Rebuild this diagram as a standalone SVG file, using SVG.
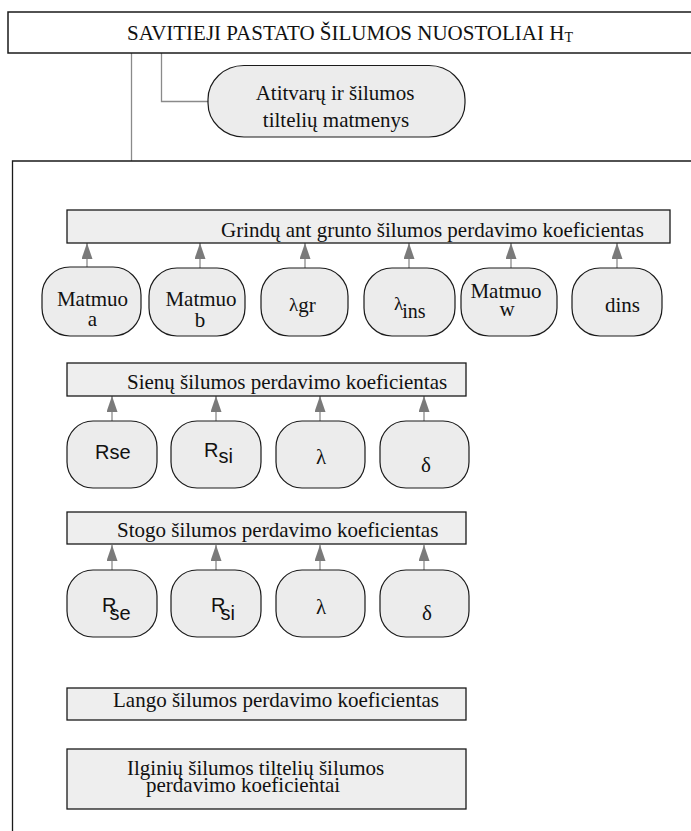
<svg xmlns="http://www.w3.org/2000/svg" width="691" height="831" viewBox="0 0 691 831">
  <defs>
    <marker id="arrow" viewBox="0 0 16 11" refX="16" refY="5.5" markerWidth="16" markerHeight="11" markerUnits="userSpaceOnUse" orient="auto">
      <path d="M0,0 L16,5.5 L0,11 z" fill="#7a7a7a"/>
    </marker>
  </defs>
  <style>
    .frame { fill: #ffffff; stroke: #1a1a1a; stroke-width: 1.5; }
    .bar { fill: #eeeeee; stroke: #1a1a1a; stroke-width: 1.3; }
    .node { fill: #ececec; stroke: #1a1a1a; stroke-width: 1.2; }
    .link { fill: none; stroke: #8a8a8a; stroke-width: 1.3; }
    .arrow { fill: none; stroke: #8a8a8a; stroke-width: 1.3; marker-end: url(#arrow); }
    .serif { font-family: "Liberation Serif", "Times New Roman", serif; fill: #111111; font-size: 21px; }
    .sans { font-family: "Liberation Sans", Arial, sans-serif; fill: #111111; font-size: 20px; }
    .mid { text-anchor: middle; }
  </style>

  <rect width="691" height="831" fill="#ffffff"/>

  <!-- connectors -->
  <g id="connectors">
    <path class="link" d="M131.5,53 V161"/>
    <path class="link" d="M161.5,53 V101.5 H208"/>
    <!-- floor inputs -->
    <path class="arrow" d="M87,267 V243"/>
    <path class="arrow" d="M200,268 V243"/>
    <path class="arrow" d="M305,268 V243"/>
    <path class="arrow" d="M409,268 V243"/>
    <path class="arrow" d="M511,268 V243"/>
    <path class="arrow" d="M617,268 V243"/>
    <!-- wall inputs -->
    <path class="arrow" d="M112,421 V396"/>
    <path class="arrow" d="M216,421 V396"/>
    <path class="arrow" d="M320,421 V396"/>
    <path class="arrow" d="M424,421 V396"/>
    <!-- roof inputs -->
    <path class="arrow" d="M112,570 V545"/>
    <path class="arrow" d="M216,570 V545"/>
    <path class="arrow" d="M320,570 V545"/>
    <path class="arrow" d="M424,570 V545"/>
  </g>

  <!-- header -->
  <g id="header">
    <rect class="frame" x="8" y="12" width="700" height="41"/>
    <text class="serif" x="127" y="39.5">SAVITIEJI PASTATO ŠILUMOS NUOSTOLIAI H<tspan font-size="14" dy="2">T</tspan></text>
  </g>

  <!-- dimensions -->
  <g id="dimensions">
    <rect class="node" x="208" y="65.5" width="257" height="71.5" rx="36" ry="34"/>
    <text class="serif mid" x="335" y="100" font-size="19">Atitvarų ir šilumos</text>
    <text class="serif mid" x="336" y="127" font-size="19">tiltelių matmenys</text>
  </g>

  <!-- container -->
  <g id="container">
    <path d="M12.5,831 V161 H691" fill="none" stroke="#1a1a1a" stroke-width="1.3"/>
  </g>

  <!-- floor on ground -->
  <g id="floor">
    <rect class="bar" x="67" y="210" width="603" height="33"/>
    <text class="serif" x="221" y="236.5">Grindų ant grunto šilumos perdavimo koeficientas</text>
  </g>
  <g id="floor-a">
    <rect class="node" x="42" y="267" width="99" height="69" rx="28" ry="28"/>
    <text class="serif mid" x="92.5" y="306">Matmuo</text>
    <text class="serif mid" x="92.5" y="326">a</text>
  </g>
  <g id="floor-b">
    <rect class="node" x="149" y="268" width="96" height="68" rx="28" ry="28"/>
    <text class="serif mid" x="201" y="306">Matmuo</text>
    <text class="serif mid" x="200" y="327">b</text>
  </g>
  <g id="floor-lambda-gr">
    <rect class="node" x="261" y="268" width="87" height="68" rx="28" ry="28"/>
    <text class="serif" x="289" y="311"><tspan font-size="19">λ</tspan><tspan dy="1">gr</tspan></text>
  </g>
  <g id="floor-lambda-ins">
    <rect class="node" x="364" y="268" width="91" height="68" rx="28" ry="28"/>
    <text class="serif" x="394" y="310"><tspan font-size="19">λ</tspan><tspan dx="-1" dy="8" font-size="20">ins</tspan></text>
  </g>
  <g id="floor-w">
    <rect class="node" x="461" y="268" width="96" height="68" rx="28" ry="28"/>
    <text class="serif mid" x="506" y="298">Matmuo</text>
    <text class="serif mid" x="507" y="316">w</text>
  </g>
  <g id="floor-d-ins">
    <rect class="node" x="572" y="268" width="90" height="68" rx="28" ry="28"/>
    <text class="serif" x="605" y="312">dins</text>
  </g>

  <!-- walls -->
  <g id="walls">
    <rect class="bar" x="67" y="363" width="399" height="33"/>
    <text class="serif" x="127" y="389">Sienų šilumos perdavimo koeficientas</text>
  </g>
  <g id="walls-rse">
    <rect class="node" x="67" y="421" width="90" height="67" rx="26" ry="26"/>
    <text class="sans" x="95" y="459">R<tspan>se</tspan></text>
  </g>
  <g id="walls-rsi">
    <rect class="node" x="171" y="421" width="90" height="67" rx="26" ry="26"/>
    <text class="sans" x="204" y="457">R<tspan dy="6">si</tspan></text>
  </g>
  <g id="walls-lambda">
    <rect class="node" x="276" y="421" width="89" height="67" rx="26" ry="26"/>
    <text class="serif" x="316" y="464" font-size="18">λ</text>
  </g>
  <g id="walls-delta">
    <rect class="node" x="380" y="421" width="89" height="67" rx="26" ry="26"/>
    <text class="serif" x="421" y="472" font-size="19">δ</text>
  </g>

  <!-- roof -->
  <g id="roof">
    <rect class="bar" x="67" y="512" width="399" height="32"/>
    <text class="serif" x="117" y="537">Stogo šilumos perdavimo koeficientas</text>
  </g>
  <g id="roof-rse">
    <rect class="node" x="67" y="570" width="90" height="67" rx="26" ry="26"/>
    <text class="sans" x="102" y="612">R<tspan dx="-7" dy="8">se</tspan></text>
  </g>
  <g id="roof-rsi">
    <rect class="node" x="171" y="570" width="90" height="67" rx="26" ry="26"/>
    <text class="sans" x="211" y="612">R<tspan dx="-5" dy="8">si</tspan></text>
  </g>
  <g id="roof-lambda">
    <rect class="node" x="276" y="570" width="89" height="67" rx="26" ry="26"/>
    <text class="serif" x="316" y="614" font-size="18">λ</text>
  </g>
  <g id="roof-delta">
    <rect class="node" x="380" y="570" width="89" height="67" rx="26" ry="26"/>
    <text class="serif" x="422" y="620" font-size="19">δ</text>
  </g>

  <!-- window -->
  <g id="window">
    <rect class="bar" x="67" y="688" width="399" height="32"/>
    <text class="serif" x="113" y="707">Lango šilumos perdavimo koeficientas</text>
  </g>

  <!-- linear thermal bridges -->
  <g id="bridges">
    <rect class="bar" x="67" y="749" width="399" height="60"/>
    <text class="serif" x="127" y="775">Ilginių šilumos tiltelių šilumos</text>
    <text class="serif" x="146" y="792">perdavimo koeficientai</text>
  </g>
</svg>
